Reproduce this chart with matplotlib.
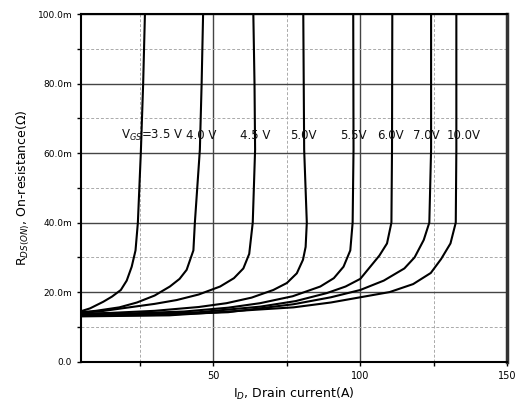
import numpy as np
import matplotlib
matplotlib.use("Agg")
import matplotlib.pyplot as plt
from matplotlib.ticker import MultipleLocator, FixedLocator

# ---------- data ----------
vgs_labels = ["V$_{GS}$=3.5 V", "4.0 V", "4.5 V", "5.0V", "5.5V", "6.0V", "7.0V", "10.0V"]
label_x = [18.5, 40.8, 59.0, 76.0, 93.0, 105.6, 118.0, 129.3]
label_y = 65.0

id_35 = [5, 8, 12.5, 15.5, 18.5, 20.5, 22.2, 23.5, 24.3, 25.3, 26.1, 26.7]
r_35 = [14.5, 15.3, 17.2, 18.7, 20.6, 23.3, 27.3, 32, 40, 60, 80, 100]

id_40 = [5, 10, 18, 24, 30, 35.2, 38.5, 40.9, 43.2, 43.7, 45.4, 46.0, 46.5]
r_40 = [14.2, 14.6, 15.6, 17.0, 19.0, 21.6, 23.8, 26.4, 32, 40, 61, 80, 100]

id_45 = [5, 12, 20.5, 30, 37.5, 45, 52.3, 57, 60.2, 62.2, 63.4, 64.2, 64.0, 63.6]
r_45 = [14.0, 14.5, 15.5, 16.6, 17.7, 19.3, 21.6, 24, 26.8, 31, 40, 61, 80, 100]

id_50 = [5, 15, 30, 45, 54.5, 63, 70.4, 75, 78.4, 80.5, 81.4, 81.8, 80.9, 80.6]
r_50 = [13.8, 14.0, 14.6, 15.7, 16.8, 18.4, 20.6, 22.6, 25.4, 29.3, 33, 40, 61, 100]

id_55 = [5, 20, 40, 55, 65.9, 77, 86.4, 91, 94.3, 96.6, 97.4, 97.7, 97.6]
r_55 = [13.6, 13.8, 14.4, 15.5, 16.8, 18.8, 21.6, 24, 27.3, 32, 40, 61, 100]

id_60 = [5, 25, 45, 65.9, 78, 88.6, 95, 100, 103.4, 106.5, 109.1, 110.6, 110.8, 110.9]
r_60 = [13.4, 13.6, 14.2, 15.8, 17.4, 19.7, 21.6, 23.8, 27.3, 30.5, 34, 40, 61, 100]

id_70 = [5, 30, 55, 77.3, 90, 100, 108, 115, 118.5, 121.6, 123.5, 124.1, 124.1]
r_70 = [13.2, 13.4, 14.2, 16.5, 18.5, 20.6, 23.3, 26.8, 30, 35, 40, 61, 100]

id_100 = [5, 35, 66, 77.3, 90, 100, 110, 118, 124, 127.5, 130.7, 132.5, 132.7, 132.7]
r_100 = [13.0, 13.3, 15.0, 15.6, 17, 18.5, 20, 22.3, 25.5, 29.5, 34, 40, 61, 100]

curves = [(id_35, r_35), (id_40, r_40), (id_45, r_45), (id_50, r_50),
          (id_55, r_55), (id_60, r_60), (id_70, r_70), (id_100, r_100)]

y_ticks = [0, 20, 40, 60, 80, 100]
y_tick_labels = ["0.0", "20.0m", "40.0m", "60.0m", "80.0m", "100.0m"]
x_ticks = [50, 100, 150]
x_tick_labels = ["50", "100", "150"]

# ---------- figure ----------
fig = plt.figure(figsize=(5.17, 4.17), dpi=100)
ax = fig.add_axes([0.157, 0.133, 0.824, 0.833])

ax.set_xlim(5, 150)
ax.set_ylim(0, 100)

# grid: solid majors, dashed minors
ax.xaxis.set_major_locator(FixedLocator(x_ticks))
ax.xaxis.set_minor_locator(FixedLocator([25, 75, 125]))
ax.yaxis.set_major_locator(FixedLocator(y_ticks))
ax.yaxis.set_minor_locator(MultipleLocator(10))
ax.grid(which="major", color="#444444", linewidth=1.0)
ax.grid(which="minor", color="#aaaaaa", linewidth=0.7, linestyle=(0, (3, 2)))
ax.set_axisbelow(True)

for xs, ys in curves:
    ax.plot(xs, ys, color="black", linewidth=1.5)

for txt, lx in zip(vgs_labels, label_x):
    ax.text(lx, label_y, txt, fontsize=8.5, va="center", ha="left", color="#111111")

ax.set_xticklabels(x_tick_labels, fontsize=7)
ax.set_yticklabels(y_tick_labels, fontsize=6.5)
ax.tick_params(which="both", direction="out", length=3, width=1)
ax.tick_params(which="minor", length=3)

ax.set_xlabel("I$_D$, Drain current(A)", fontsize=9, labelpad=4)
ax.set_ylabel("R$_{DS(ON)}$, On-resistance(\u03a9)", fontsize=9, labelpad=4)

for side in ["left", "bottom", "top"]:
    ax.spines[side].set_linewidth(1.5)
ax.spines["right"].set_linewidth(2.5)
ax.spines["right"].set_color("#333333")

fig.savefig("out.png", dpi=100)
